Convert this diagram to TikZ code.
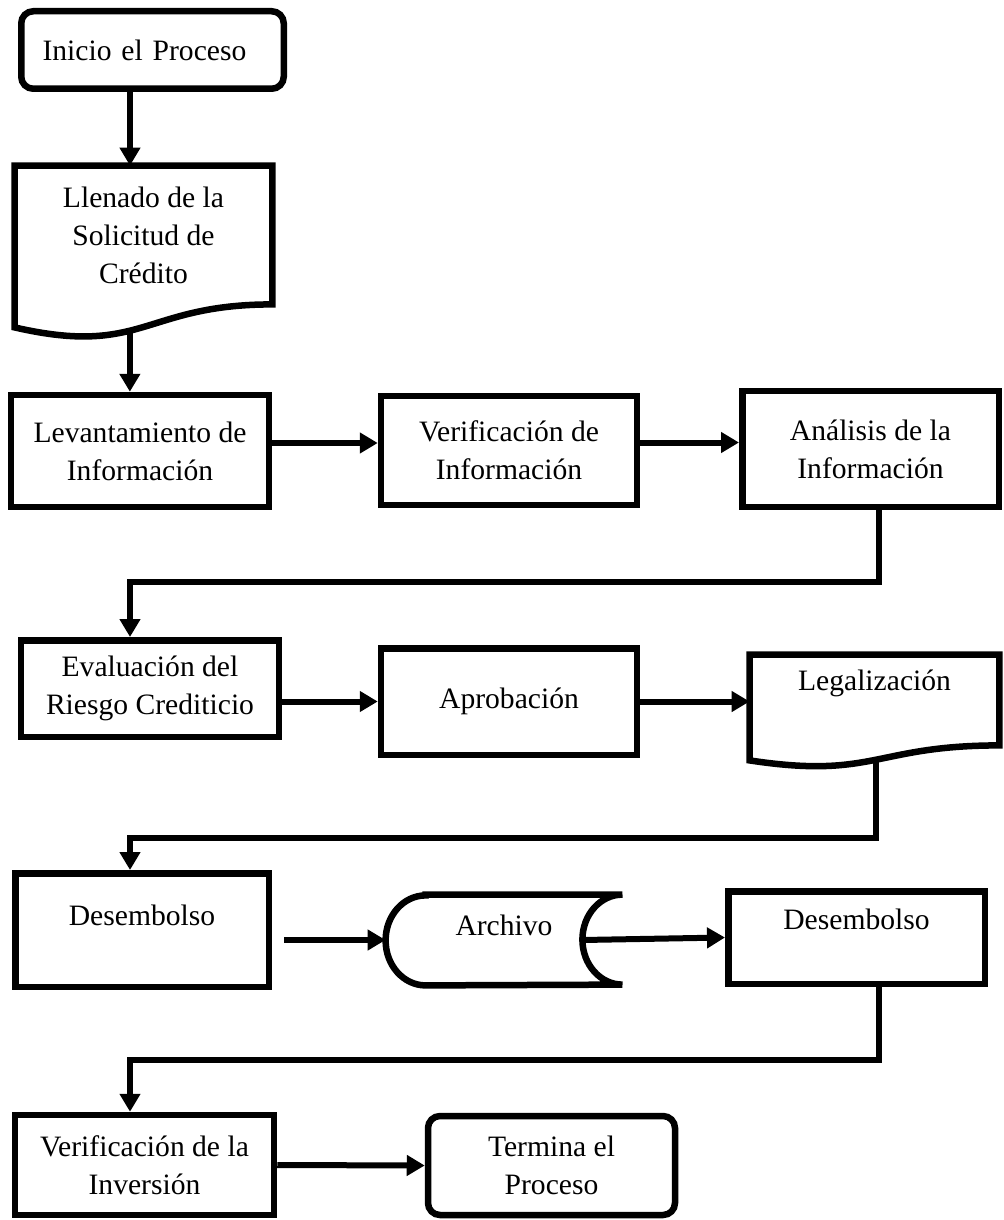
\documentclass[tikz,border=0pt]{standalone}
\usepackage{fontspec}
\setmainfont{Liberation Serif}
\usepackage{tikz}
\usetikzlibrary{arrows.meta,positioning,calc}

\begin{document}
\begin{tikzpicture}[
  x=0.5pt, y=0.5pt,
  font=\fontsize{14.8}{19}\selectfont,
  >={Triangle[length=9pt,width=10pt]},
  proceso/.style={
    draw,
    rectangle,
    line width=3.25pt,
    inner sep=2pt,
    align=center
  },
  terminal/.style={
    proceso,
    rounded corners=6pt
  },
  documento/.style={
    rectangle,
    inner sep=2pt,
    align=center
  },
  contorno/.style={
    line width=3.25pt
  },
  flecha/.style={
    ->,
    line width=3pt
  }
]

  \useasboundingbox (0,0) rectangle (1003,-1220);

  % Ejes de los conectores verticales
  \coordinate (eje) at (130,0);
  \coordinate (ejeder) at (879,0);

  % --- Inicio y solicitud ---
  \node[terminal, minimum width=131.25pt, minimum height=38.75pt, text width=110pt, inner xsep=0pt, align=left] (inicio) at (152.5,-50) {Inicio el Proceso};

  \node[documento, minimum width=128.5pt, minimum height=69pt] (llenado) at (143.5,-235) {Llenado de la\\Solicitud de\\Cr\'edito};
  \draw[contorno] ($(llenado.south west)+(0,-23)$) -- (llenado.north west) -- (llenado.north east) -- (llenado.south east)
    .. controls (llenado.south) and ($(llenado.south)+(0,-52.6)$) .. ($(llenado.south west)+(0,-23)$)
    coordinate[pos=0.57] (llenado-b) -- cycle;

  % --- Fila 1 ---
  \node[proceso, minimum width=129pt, minimum height=56pt] (levant) at (140,-451) {Levantamiento de\\Informaci\'on};
  \node[proceso, minimum width=128pt, minimum height=54.5pt] (verif) at (509,-450.5) {Verificaci\'on de\\Informaci\'on};
  \node[proceso, minimum width=128.25pt, minimum height=58pt] (analisis) at (870.5,-449) {An\'alisis de la\\Informaci\'on};

  % --- Fila 2 ---
  \node[proceso, minimum width=129pt, minimum height=48.25pt] (evalua) at (150,-688.5) {Evaluaci\'on del\\Riesgo Crediticio};
  \node[proceso, minimum width=128pt, minimum height=53.25pt] (aprob) at (509,-701.5) {Aprobaci\'on};

  \node[documento, minimum width=124.5pt, minimum height=45pt, text depth=20pt] (legal) at (874.5,-700) {Legalizaci\'on};
  \draw[contorno] ($(legal.south west)+(0,-15)$) -- (legal.north west) -- (legal.north east) -- (legal.south east)
    .. controls (legal.south) and ($(legal.south)+(0,-34)$) .. ($(legal.south west)+(0,-15)$)
    coordinate[pos=0.49] (legal-b) -- cycle;

  % --- Fila 3 ---
  \node[proceso, minimum width=126.75pt, minimum height=56.75pt, text depth=15pt] (des1) at (142,-930) {Desembolso};

  \node[documento, inner sep=0pt, minimum width=118pt, minimum height=45pt, text depth=15pt] (archivo) at (504,-940) {Archivo};
  \draw[contorno] ($(archivo.north west)+(40,0)$) -- (archivo.north east)
    arc[start angle=90, end angle=270, x radius=20pt, y radius=22.5pt]
    -- ($(archivo.south west)+(40,0)$)
    arc[start angle=270, end angle=90, x radius=20pt, y radius=22.5pt] -- cycle;

  \node[proceso, minimum width=128.25pt, minimum height=46.25pt, text depth=18.5pt] (des2) at (856.5,-937.5) {Desembolso};

  % --- Fila 4 ---
  \node[proceso, minimum width=129.5pt, minimum height=50pt] (verinv) at (144.5,-1165) {Verificaci\'on de la\\Inversi\'on};
  \node[terminal, minimum width=123.5pt, minimum height=49.5pt] (termina) at (551.5,-1165.5) {Termina el\\Proceso};

  % Conectores
  \draw[flecha] (inicio.south -| eje) -- (llenado.north -| eje);
  \draw[flecha] (llenado-b) -- (llenado-b |- levant.north);
  \draw[flecha] ($(levant.east)+(0,8)$) -- ($(levant.east -| verif.west)+(0,8)$);
  \draw[flecha] ($(verif.east)+(0,8)$) -- ($(verif.east -| analisis.west)+(0,8)$);
  \draw[flecha] (analisis.south -| ejeder) -- ++(0,-72) -| (evalua.north -| eje);
  \draw[flecha] (evalua.east |- aprob.west) -- (aprob.west);
  \draw[flecha] (aprob.east) -- (aprob.east -| legal.west);
  \draw[flecha] (legal-b) -- ++(0,-78) -| (des1.north -| eje);
  \draw[flecha] ($(des1.east |- archivo.west)+(12,0)$) -- (archivo.west);
  \draw[flecha] ($(archivo.east)+(-40,0)$) -- (des2.west);
  \draw[flecha] (des2.south -| ejeder) -- ++(0,-73) -| (verinv.north -| eje);
  \draw[flecha] (verinv.east) -- (termina.west);

\end{tikzpicture}
\end{document}
